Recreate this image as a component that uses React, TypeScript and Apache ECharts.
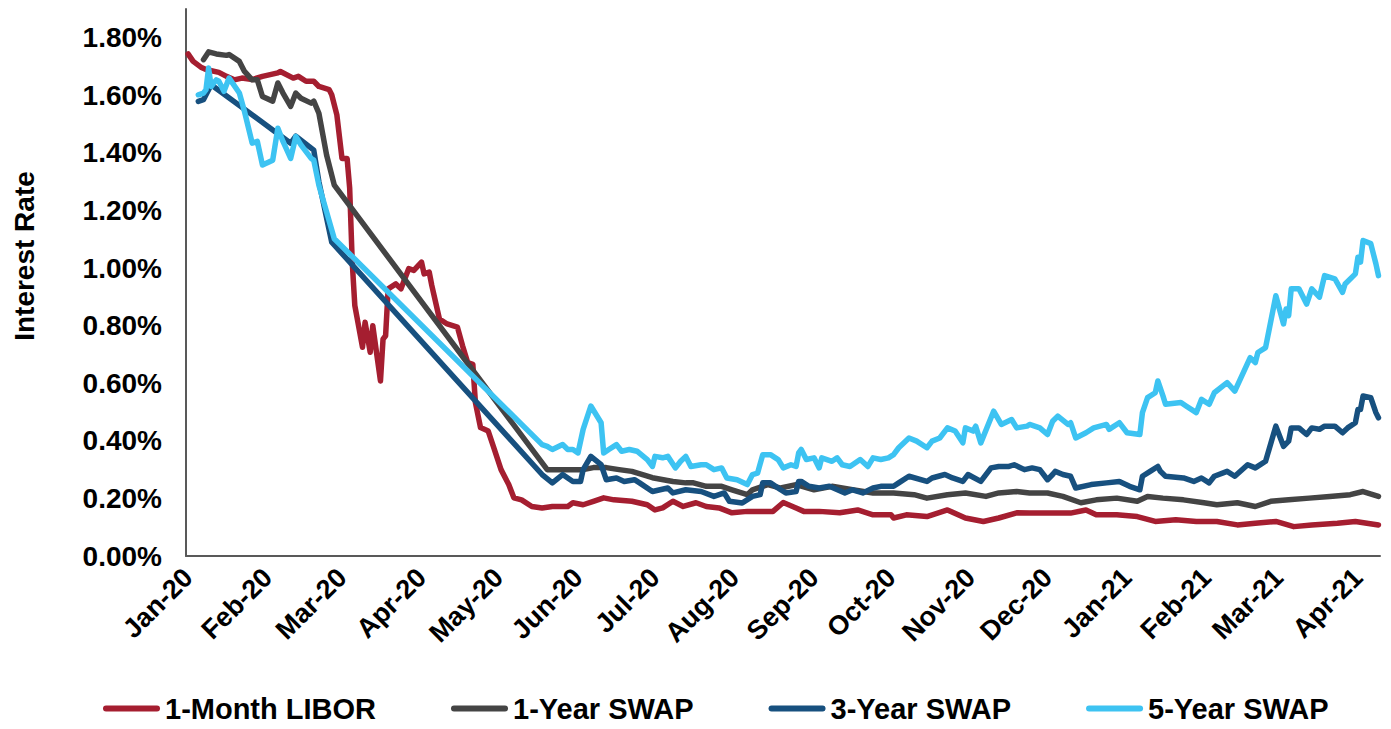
import React, { useEffect, useRef } from "react";
import * as echarts from "echarts";

// Days counted from 1 Jan 2020
const BASE_DATE = Date.UTC(2020, 0, 1);
const MS_PER_DAY = 86400000;

const tickDates = [
  "2020-01-01", "2020-02-01", "2020-03-01", "2020-04-01", "2020-05-01", "2020-06-01",
  "2020-07-01", "2020-08-01", "2020-09-01", "2020-10-01", "2020-11-01", "2020-12-01",
  "2021-01-01", "2021-02-01", "2021-03-01", "2021-04-01",
];
const tickLabels = [
  "Jan-20", "Feb-20", "Mar-20", "Apr-20", "May-20", "Jun-20", "Jul-20", "Aug-20",
  "Sep-20", "Oct-20", "Nov-20", "Dec-20", "Jan-21", "Feb-21", "Mar-21", "Apr-21",
];

const seriesNames = ["1-Month LIBOR", "1-Year SWAP", "3-Year SWAP", "5-Year SWAP"];

// [day, rate %]
const libor1M: [number, number][] = [
  [0, 1.744], [2, 1.718], [5, 1.698], [7, 1.69], [12, 1.68], [15, 1.666], [18, 1.654], [21, 1.66],
  [25, 1.655], [29, 1.666], [35, 1.678], [36, 1.683], [41, 1.66], [43, 1.666], [46, 1.649], [49, 1.649],
  [51, 1.631], [55, 1.62], [56, 1.602], [58, 1.532], [60, 1.381], [62, 1.381], [63, 1.277], [64, 1.02],
  [65, 0.87], [68, 0.725], [69, 0.812], [71, 0.708], [72, 0.8], [75, 0.608], [76, 0.753], [77, 0.765],
  [78, 0.928], [81, 0.945], [83, 0.928], [84, 0.952], [86, 0.998], [88, 0.992], [91, 1.021], [92, 0.98],
  [94, 0.986], [95, 0.94], [98, 0.823], [101, 0.806], [105, 0.795], [107, 0.73], [109, 0.672], [111, 0.666],
  [112, 0.533], [114, 0.446], [117, 0.434], [119, 0.381], [122, 0.3], [125, 0.248], [127, 0.202], [130, 0.195],
  [134, 0.172], [138, 0.167], [142, 0.172], [148, 0.172], [150, 0.185], [154, 0.178], [158, 0.19], [162, 0.202],
  [166, 0.195], [173, 0.19], [179, 0.178], [182, 0.16], [185, 0.167], [189, 0.19], [193, 0.172], [198, 0.185],
  [202, 0.172], [207, 0.167], [212, 0.15], [218, 0.155], [223, 0.155], [228, 0.155], [232, 0.186], [237, 0.167],
  [240, 0.155], [246, 0.155], [254, 0.15], [261, 0.16], [267, 0.143], [274, 0.143], [275, 0.132], [280, 0.143],
  [288, 0.137], [296, 0.16], [303, 0.132], [310, 0.12], [316, 0.132], [323, 0.15], [328, 0.149], [336, 0.149],
  [344, 0.149], [350, 0.16], [354, 0.143], [362, 0.143], [370, 0.137], [377, 0.12], [385, 0.126], [393, 0.12],
  [401, 0.12], [409, 0.108], [416, 0.114], [424, 0.12], [431, 0.102], [438, 0.108], [448, 0.114], [455, 0.12],
  [464, 0.108],
];

const swap1Y: [number, number][] = [
  [6, 1.724], [8, 1.751], [11, 1.744], [15, 1.739], [16, 1.742], [20, 1.718], [22, 1.683], [25, 1.654],
  [27, 1.654], [29, 1.596], [33, 1.58], [35, 1.643], [37, 1.608], [40, 1.562], [42, 1.608], [44, 1.59],
  [48, 1.573], [49, 1.58], [51, 1.538], [54, 1.393], [57, 1.288], [140, 0.3], [148, 0.3], [154, 0.3],
  [158, 0.307], [163, 0.307], [168, 0.3], [173, 0.294], [181, 0.272], [189, 0.259], [194, 0.254], [197, 0.254],
  [202, 0.242], [208, 0.242], [212, 0.23], [218, 0.213], [220, 0.23], [226, 0.248], [231, 0.236], [237, 0.248],
  [244, 0.23], [251, 0.242], [259, 0.23], [267, 0.219], [275, 0.219], [283, 0.213], [288, 0.201], [296, 0.213],
  [303, 0.219], [311, 0.207], [316, 0.219], [323, 0.224], [328, 0.219], [335, 0.219], [341, 0.207], [348, 0.185],
  [354, 0.195], [362, 0.201], [370, 0.19], [374, 0.207], [380, 0.201], [388, 0.195], [396, 0.185], [401, 0.178],
  [409, 0.185], [416, 0.172], [422, 0.19], [429, 0.195], [437, 0.201], [445, 0.207], [453, 0.213], [458, 0.224],
  [464, 0.207],
];

const swap3Y: [number, number][] = [
  [4, 1.579], [6, 1.585], [9, 1.637], [40, 1.434], [42, 1.458], [49, 1.41], [51, 1.3], [56, 1.09],
  [138, 0.283], [142, 0.254], [146, 0.283], [150, 0.259], [153, 0.259], [154, 0.3], [157, 0.346], [161, 0.317],
  [163, 0.265], [167, 0.271], [170, 0.259], [174, 0.265], [176, 0.254], [181, 0.224], [187, 0.236], [189, 0.219],
  [194, 0.23], [200, 0.224], [205, 0.207], [209, 0.219], [211, 0.19], [216, 0.184], [220, 0.207], [223, 0.213],
  [224, 0.254], [227, 0.254], [231, 0.23], [233, 0.219], [237, 0.224], [238, 0.259], [239, 0.259], [242, 0.242],
  [246, 0.236], [250, 0.242], [256, 0.219], [259, 0.23], [263, 0.219], [267, 0.236], [270, 0.242], [275, 0.242],
  [277, 0.254], [281, 0.277], [288, 0.259], [290, 0.271], [295, 0.283], [298, 0.271], [302, 0.259], [304, 0.283],
  [309, 0.259], [313, 0.306], [316, 0.311], [320, 0.311], [322, 0.317], [326, 0.3], [329, 0.306], [332, 0.3],
  [335, 0.265], [337, 0.283], [338, 0.294], [341, 0.283], [344, 0.277], [346, 0.236], [352, 0.248], [358, 0.254],
  [363, 0.259], [367, 0.242], [371, 0.23], [372, 0.277], [375, 0.294], [378, 0.311], [379, 0.294], [381, 0.277],
  [388, 0.271], [392, 0.259], [395, 0.271], [398, 0.254], [400, 0.277], [405, 0.294], [408, 0.277], [413, 0.317],
  [416, 0.306], [420, 0.329], [424, 0.451], [427, 0.381], [429, 0.399], [430, 0.445], [433, 0.445], [436, 0.422],
  [438, 0.445], [441, 0.44], [443, 0.451], [447, 0.451], [450, 0.428], [452, 0.445], [455, 0.463], [456, 0.509],
  [457, 0.509], [458, 0.556], [461, 0.55], [463, 0.498], [464, 0.48],
];

const swap5Y: [number, number][] = [
  [4, 1.602], [6, 1.608], [7, 1.62], [8, 1.695], [9, 1.631], [11, 1.654], [12, 1.649], [14, 1.614],
  [16, 1.66], [20, 1.608], [22, 1.544], [25, 1.434], [27, 1.44], [29, 1.358], [33, 1.375], [35, 1.486],
  [37, 1.44], [40, 1.381], [42, 1.457], [44, 1.428], [48, 1.381], [49, 1.375], [51, 1.288], [57, 1.102],
  [138, 0.387], [140, 0.381], [142, 0.37], [146, 0.387], [148, 0.37], [150, 0.37], [152, 0.358], [154, 0.44],
  [157, 0.521], [161, 0.463], [162, 0.358], [164, 0.37], [167, 0.387], [169, 0.364], [172, 0.37], [175, 0.364],
  [179, 0.335], [181, 0.311], [182, 0.346], [185, 0.341], [187, 0.346], [190, 0.306], [192, 0.329], [194, 0.346],
  [196, 0.311], [200, 0.317], [202, 0.317], [205, 0.3], [208, 0.306], [210, 0.271], [214, 0.265], [218, 0.248],
  [220, 0.283], [222, 0.288], [224, 0.352], [227, 0.352], [230, 0.335], [232, 0.306], [235, 0.317], [237, 0.311],
  [238, 0.358], [239, 0.37], [241, 0.335], [244, 0.341], [246, 0.306], [247, 0.341], [251, 0.329], [253, 0.341],
  [255, 0.317], [258, 0.311], [260, 0.323], [262, 0.335], [265, 0.311], [267, 0.341], [270, 0.335], [273, 0.341],
  [275, 0.352], [277, 0.376], [281, 0.41], [284, 0.399], [288, 0.376], [290, 0.399], [293, 0.41], [296, 0.445],
  [299, 0.434], [302, 0.393], [303, 0.445], [306, 0.434], [307, 0.451], [309, 0.393], [314, 0.503], [317, 0.457],
  [321, 0.474], [323, 0.445], [327, 0.451], [328, 0.457], [332, 0.445], [335, 0.422], [337, 0.468], [339, 0.486],
  [343, 0.457], [344, 0.463], [346, 0.41], [350, 0.428], [353, 0.445], [358, 0.457], [359, 0.44], [363, 0.463],
  [366, 0.428], [371, 0.422], [372, 0.498], [374, 0.55], [377, 0.567], [378, 0.608], [380, 0.556], [381, 0.527],
  [387, 0.533], [389, 0.521], [393, 0.498], [395, 0.544], [398, 0.527], [400, 0.567], [405, 0.602], [408, 0.573],
  [414, 0.689], [416, 0.672], [417, 0.707], [420, 0.724], [424, 0.904], [427, 0.806], [428, 0.858], [429, 0.835],
  [430, 0.928], [433, 0.928], [436, 0.875], [438, 0.928], [441, 0.899], [443, 0.974], [447, 0.963], [450, 0.916],
  [451, 0.945], [455, 0.98], [456, 1.038], [457, 1.021], [458, 1.096], [461, 1.085], [463, 1.015], [464, 0.974],
];

const seriesData = [libor1M, swap1Y, swap3Y, swap5Y];
const seriesColors = ["#A51E30", "#444444", "#17507F", "#3DC3F2"];

const FONT = "'Liberation Sans', Arial, Helvetica, sans-serif";

const toTs = (d: number) => BASE_DATE + d * MS_PER_DAY;
const tickTs = tickDates.map((s) => Date.parse(s + "T00:00:00Z"));

export default function App() {
  const ref = useRef<HTMLDivElement>(null);

  useEffect(() => {
    document.body.style.margin = "0";
    document.body.style.overflow = "hidden";
    if (!ref.current) return;
    const chart = echarts.init(ref.current, null, { renderer: "svg" });
    chart.setOption({
      animation: false,
      backgroundColor: "#ffffff",
      grid: { left: 186, right: 11, top: 9, bottom: 173, outerBoundsMode: "none", containLabel: false },
      legend: {
        left: 103,
        top: 694,
        padding: 0,
        itemWidth: 57,
        itemHeight: 6,
        itemGap: 75,
        icon: "path://M3,0H54A3,3,0,0,1,54,6H3A3,3,0,0,1,3,0Z",
        textStyle: { fontSize: 29, fontWeight: "bold", color: "#000", fontFamily: FONT },
        data: seriesNames,
      },
      xAxis: {
        type: "value",
        min: toTs(-0.8),
        max: toTs(464.6),
        splitLine: { show: false },
        axisTick: { show: false },
        axisLine: { show: true, lineStyle: { color: "#595959", width: 2 } },
        axisLabel: {
          customValues: tickTs,
          rotate: 45,
          margin: 17,
          fontSize: 27,
          fontWeight: "bold",
          color: "#000",
          fontFamily: FONT,
          hideOverlap: false,
          formatter: (v: number) => {
            const i = tickTs.indexOf(v);
            return i >= 0 ? tickLabels[i] : "";
          },
        },
      },
      yAxis: {
        type: "value",
        min: 0,
        max: 1.9,
        interval: 0.2,
        splitLine: { show: false },
        axisTick: { show: false },
        axisLine: { show: true, lineStyle: { color: "#595959", width: 2 } },
        axisLabel: {
          showMaxLabel: false,
          margin: 24,
          fontSize: 28,
          fontWeight: "bold",
          color: "#000",
          fontFamily: FONT,
          formatter: (v: number) => v.toFixed(2) + "%",
        },
      },
      graphic: [
        {
          type: "text",
          x: 24,
          y: 256,
          rotation: Math.PI / 2,
          style: {
            text: "Interest Rate",
            fontSize: 28,
            fontWeight: "bold",
            fill: "#000",
            fontFamily: FONT,
            align: "center",
            verticalAlign: "middle",
          },
        },
      ],
      series: seriesNames.map((name, i) => ({
        name,
        type: "line",
        showSymbol: false,
        symbol: "none",
        color: seriesColors[i],
        lineStyle: { width: 5.5, color: seriesColors[i], join: "round", cap: "round" },
        data: seriesData[i].map(([d, v]) => [toTs(d), v]),
      })),
    });
    return () => chart.dispose();
  }, []);

  return <div ref={ref} style={{ width: 1391, height: 729 }} />;
}
